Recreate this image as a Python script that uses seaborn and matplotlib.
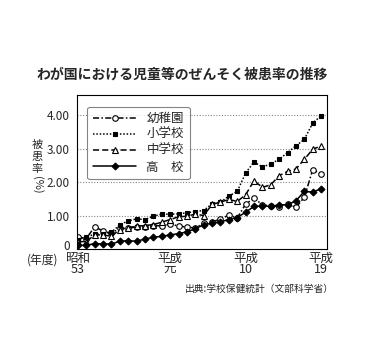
import numpy as np
import pandas as pd
import matplotlib
matplotlib.use("Agg")
import matplotlib.pyplot as plt
import matplotlib.transforms as mtransforms
import seaborn as sns

years = list(range(30))  # 昭和53 (1978) .. 平成19 (2007)
kindergarten = [0.37, 0.31, 0.66, 0.54, 0.47, 0.62, 0.62, 0.66, 0.66, 0.70,
                0.69, 0.74, 0.69, 0.65, 0.63, 0.77, 0.80, 0.90, 1.01, 0.93,
                1.34, 1.52, 1.32, 1.29, 1.26, 1.35, 1.24, 1.55, 2.37, 2.24]
elementary = [0.28, 0.36, 0.44, 0.46, 0.50, 0.72, 0.84, 0.90, 0.88, 0.98,
              1.04, 1.04, 1.05, 1.08, 1.12, 1.15, 1.35, 1.40, 1.58, 1.72,
              2.27, 2.60, 2.45, 2.54, 2.68, 2.88, 3.08, 3.28, 3.76, 3.98]
middle = [0.22, 0.22, 0.42, 0.42, 0.38, 0.58, 0.64, 0.68, 0.70, 0.73,
          0.80, 0.88, 0.96, 0.98, 1.04, 1.00, 1.33, 1.40, 1.48, 1.42,
          1.62, 2.04, 1.84, 1.92, 2.19, 2.32, 2.39, 2.68, 2.98, 3.08]
high = [0.11, 0.11, 0.16, 0.15, 0.15, 0.23, 0.25, 0.23, 0.30, 0.35,
        0.38, 0.42, 0.46, 0.51, 0.61, 0.72, 0.77, 0.81, 0.88, 0.94,
        1.10, 1.27, 1.29, 1.27, 1.32, 1.32, 1.44, 1.72, 1.70, 1.80]
series_names = ["幼稚園", "小学校", "中学校", "高　校"]
x_tick_pos = [0, 11, 20, 29]
x_tick_labels = ["昭和\n53", "平成\n元", "平成\n10", "平成\n19"]
y_ticks = [0, 1, 2, 3, 4]
y_tick_labels = ["0", "1.00", "2.00", "3.00", "4.00"]
ylabel_chars = ["被", "患", "率"]
ylabel_unit = "(%)"

sns.set_style("white")
plt.rcParams["font.family"] = ["Noto Sans CJK JP", "DejaVu Sans"]

W, H = 365, 362
fig = plt.figure(figsize=(W / 100, H / 100), dpi=100)
ax = fig.add_axes([77 / W, 1 - 249 / H, 250 / W, 154 / H])

styles = [
    dict(marker="o", linestyle=(0, (4, 1.5, 1, 1.5)), markerfacecolor="white", markersize=4),
    dict(marker="s", linestyle=(0, (1, 1.2)), markerfacecolor="black", markersize=3.5),
    dict(marker="^", linestyle=(0, (4, 2)), markerfacecolor="white", markersize=4.5),
    dict(marker="D", linestyle="-", markerfacecolor="black", markersize=3.5),
]
data = [kindergarten, elementary, middle, high]
for name, vals, st in zip(series_names, data, styles):
    df = pd.DataFrame({"year": years, "rate": vals})
    sns.lineplot(data=df, x="year", y="rate", ax=ax, color="black",
                 linewidth=1.1, markeredgecolor="black", markeredgewidth=0.8,
                 label=name, **st)

ax.set_xlim(-0.1, 29.7)
ax.set_ylim(0, 4.6)
ax.set_xticks(years, minor=True)
ax.set_xticks(x_tick_pos)
ax.set_xticklabels(x_tick_labels, fontsize=9, linespacing=0.85)
ax.set_yticks(y_ticks)
ax.set_yticklabels(y_tick_labels, fontsize=8.5)
ax.tick_params(axis="x", which="both", direction="in", length=5, width=0.7, pad=2)
ax.tick_params(axis="y", direction="out", length=3, width=0.6, pad=2)
ax.set_xlabel("")
ax.set_ylabel("")
# lift the "0" label slightly like the reference
zero_lbl = ax.get_yticklabels()[0]
zero_lbl.set_transform(zero_lbl.get_transform() +
                       mtransforms.ScaledTranslation(0, 3 / 72, fig.dpi_scale_trans))
for yv in [1, 2, 3, 4]:
    ax.axhline(yv, color="#888888", linestyle=(0, (1, 1.5)), linewidth=0.8, zorder=0)
for s in ax.spines.values():
    s.set_color("black")
    s.set_linewidth(0.8)

leg = ax.legend(loc="upper left", bbox_to_anchor=(0.04, 0.925), borderaxespad=0,
                fontsize=9, frameon=True, fancybox=True, handlelength=3.5,
                handletextpad=0.8, borderpad=0.45, labelspacing=0.25, edgecolor="#666666")
leg.get_frame().set_linewidth(0.8)

fig.text(0.5, 1 - 75 / H, "わが国における児童等のぜんそく被患率の推移", ha="center", va="center",
         fontsize=10, fontweight="bold")
ylab_y = [145, 157, 169]
for ch, yy in zip(ylabel_chars, ylab_y):
    fig.text(37 / W, 1 - yy / H, ch, ha="center", va="center", fontsize=8)
fig.text(37 / W, 1 - 185 / H, ylabel_unit, ha="center", va="center", fontsize=8,
         rotation=-90)
fig.text(27 / W, 1 - 260 / H, "(年度)", ha="left", va="center", fontsize=8.5)
fig.text(334 / W, 1 - 289 / H, "出典:学校保健統計（文部科学省）", ha="right", va="center", fontsize=7)

fig.savefig("out.png", dpi=100)
